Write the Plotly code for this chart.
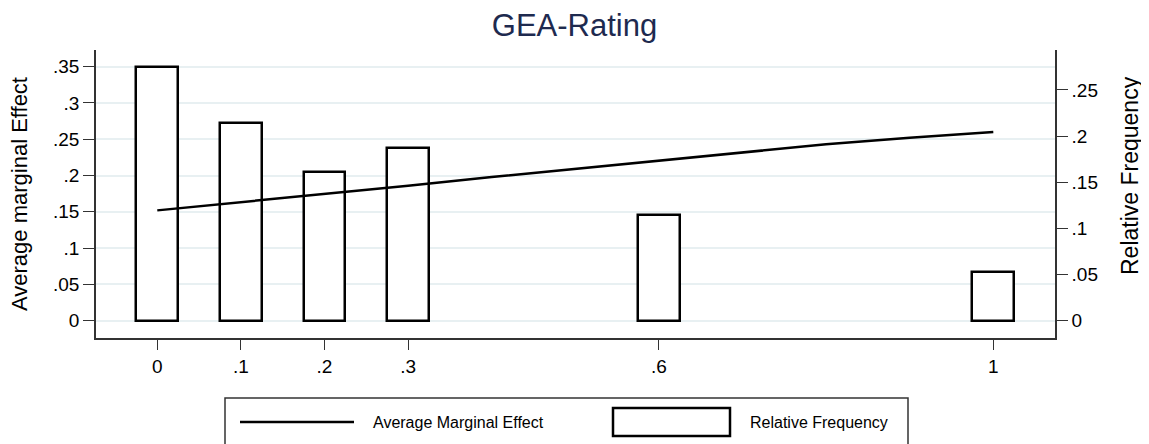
import plotly.graph_objects as go

# data
freq_x = [0, 0.1, 0.2, 0.3, 0.6, 1.0]
rel_freq = [0.275, 0.214, 0.161, 0.187, 0.115, 0.053]

ame_x = [0, 0.1, 0.2, 0.3, 0.4, 0.5, 0.6, 0.7, 0.8, 0.9, 1.0]
ame_y = [0.152, 0.163, 0.174, 0.186, 0.198, 0.209, 0.221, 0.232, 0.243, 0.252, 0.260]

x_ticks = [0, 0.1, 0.2, 0.3, 0.6, 1.0]
x_ticktext = ["0", ".1", ".2", ".3", ".6", "1"]
left_ticks = [0, 0.05, 0.1, 0.15, 0.2, 0.25, 0.3, 0.35]
left_ticktext = ["0", ".05", ".1", ".15", ".2", ".25", ".3", ".35"]
right_ticks = [0, 0.05, 0.1, 0.15, 0.2, 0.25]
right_ticktext = ["0", ".05", ".1", ".15", ".2", ".25"]

# the page body has an 8px default margin, so the figure is 8px smaller
OFF = 8
W, H = 1149 - OFF, 444 - OFF
# plot area in page px
L, R, T, B = 96, 1055, 50, 338

def px(x):
    return (x - L) / (R - L)

def py(y):
    return (B - y) / (B - T)

FONT = "Liberation Sans, Arial, sans-serif"
NARROW = "Liberation Sans Narrow, Arial Narrow, Liberation Sans, sans-serif"
AXC = "#333333"

fig = go.Figure()

# bars on the (right side) primary y axis
fig.add_trace(go.Bar(x=freq_x, y=rel_freq, width=0.05, yaxis="y",
                     marker=dict(color="white", line=dict(color="black", width=2.5)),
                     name="Relative Frequency", showlegend=False))
# line on the overlaying left axis so it is drawn on top
fig.add_trace(go.Scatter(x=ame_x, y=ame_y, mode="lines", yaxis="y2",
                         line=dict(color="black", width=2.5),
                         name="Average Marginal Effect", showlegend=False))

fig.update_layout(
    width=W, height=H,
    margin=dict(l=L - OFF, r=W - (R - OFF), t=T - OFF, b=H - (B - OFF), autoexpand=False),
    plot_bgcolor="white", paper_bgcolor="white",
    font=dict(family=FONT, size=19, color="black"),
    title=dict(text="GEA-Rating", x=(574.5 - OFF) / W, xanchor="center", xref="container",
               y=1 - (25 - OFF) / H, yanchor="middle", yref="container",
               font=dict(family=FONT, size=31, color="#1e2a4f")),
    bargap=0,
    xaxis=dict(range=[-0.0733, 1.0738], tickvals=x_ticks, ticktext=x_ticktext,
               showgrid=False, zeroline=False, showline=True, linecolor=AXC, linewidth=1.5,
               ticks="outside", ticklen=10, tickcolor=AXC, tickwidth=1.2,
               tickfont=dict(size=19), automargin=False),
    yaxis=dict(range=[-0.0187, 0.2933], side="right", tickvals=right_ticks, ticktext=right_ticktext,
               showgrid=False, zeroline=False, showline=True, linecolor=AXC, linewidth=1.5,
               ticks="outside", ticklen=11, tickcolor=AXC, tickwidth=1.2,
               tickfont=dict(size=19), automargin=False),
    yaxis2=dict(range=[-0.0238, 0.3729], side="left", overlaying="y",
                tickvals=left_ticks, ticktext=left_ticktext,
                showgrid=True, gridcolor="#e8f0f2", gridwidth=1.5, zeroline=False,
                showline=True, linecolor=AXC, linewidth=1.5,
                ticks="outside", ticklen=11, tickcolor=AXC, tickwidth=1.2,
                tickfont=dict(size=19), automargin=False),
)

# axis titles
fig.add_annotation(text="Average marginal Effect", xref="paper", yref="paper",
                   x=px(19), y=py(194), xanchor="center", yanchor="middle", textangle=-90,
                   showarrow=False, font=dict(size=22))
fig.add_annotation(text="Relative Frequency", xref="paper", yref="paper",
                   x=px(1130), y=py(176), xanchor="center", yanchor="middle", textangle=-90,
                   showarrow=False, font=dict(size=23))

# custom legend drawn below the plot
fig.add_shape(type="rect", xref="paper", yref="paper",
              x0=px(225), x1=px(908), y0=py(398), y1=py(470),
              line=dict(color=AXC, width=1.5), fillcolor="white")
fig.add_shape(type="line", xref="paper", yref="paper",
              x0=px(240), x1=px(354), y0=py(422), y1=py(422),
              line=dict(color="black", width=2.5))
fig.add_shape(type="rect", xref="paper", yref="paper",
              x0=px(613), x1=px(730), y0=py(408), y1=py(436),
              line=dict(color="black", width=2.5), fillcolor="white")
fig.add_annotation(text="Average Marginal Effect", xref="paper", yref="paper",
                   x=px(371), y=py(422), xanchor="left", yanchor="middle", showarrow=False,
                   font=dict(family=NARROW, size=16, color="black"))
fig.add_annotation(text="Relative Frequency", xref="paper", yref="paper",
                   x=px(748), y=py(422), xanchor="left", yanchor="middle", showarrow=False,
                   font=dict(family=NARROW, size=16, color="black"))

fig.write_html("out.html")
